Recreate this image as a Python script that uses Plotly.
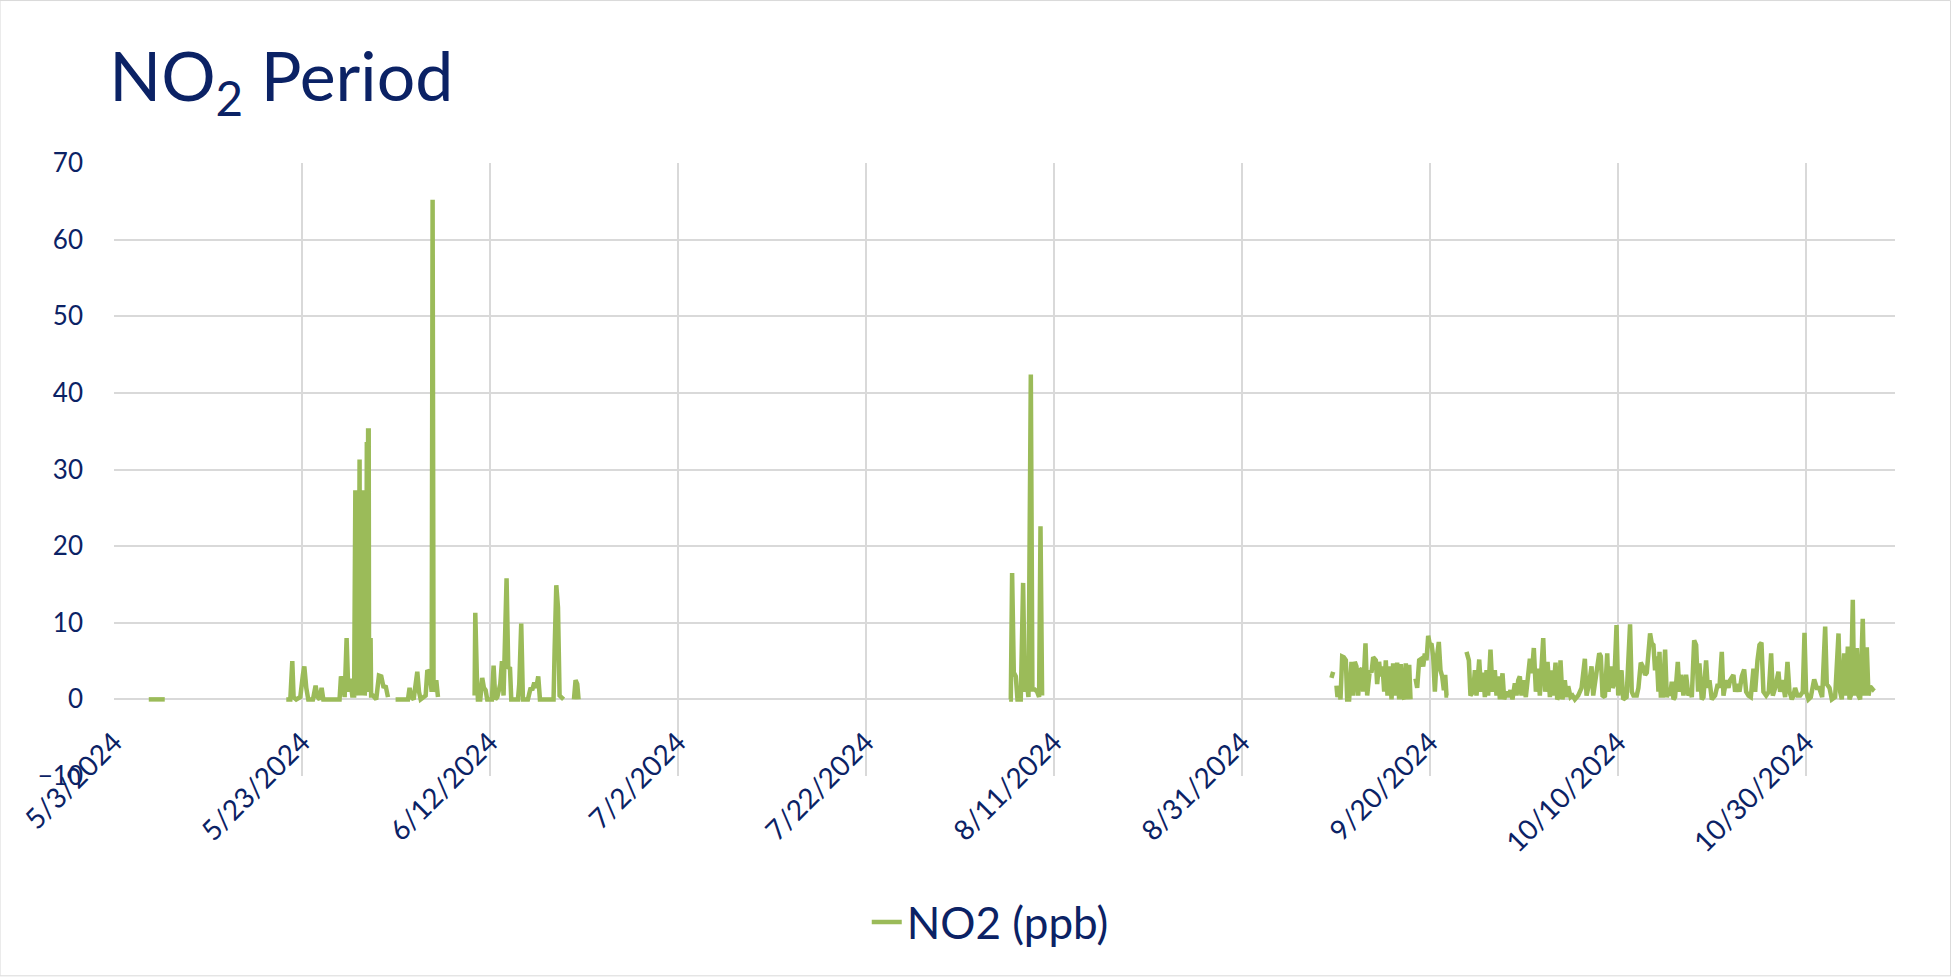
import pandas as pd
import plotly.graph_objects as go

BASE_DATE = pd.Timestamp("2024-05-03")

# readings: days after 5/3/2024 and NO2 in ppb
# (None marks a break in the record)
may_jun_days = [
    3.7, 4.5, 5.4, None,
    18.33, 18.76, 18.97, 19.11, 19.39, 19.82, 20.1, 20.25, 20.46, 20.67, 21.17, 21.45,
    21.66, 21.88, 22.09, 22.27, 24.0, 24.15, 24.36, 24.54, 24.75, 24.93, 25.14, 25.35,
    25.55, 25.6, 25.64, 25.68, 25.72, 25.76, 25.8, 25.84, 25.88, 25.92, 25.96, 26.0,
    26.04, 26.09, 26.13, 26.17, 26.21, 26.25, 26.3, 26.35, 26.42, 26.46, 26.5, 26.55,
    26.6, 26.64, 26.68, 26.72, 26.76, 26.8, 26.84, 26.9, 26.94, 26.98, 27.04, 27.1,
    27.14, 27.2, 27.24, 27.3, 27.36,
    27.55, 27.9, 28.19, 28.44, 28.69, 28.9, 29.15, None,
    29.96, 31.28, 31.45, 31.63, 31.88, 32.09, 32.27, 32.45, 32.63, 33.16, 33.34, 33.58,
    33.8, 33.9, 34.0, 34.29, 34.47, None,
    38.37, 38.44, 38.61, 38.72, 38.97, 39.18, 39.36, 39.54, 39.71, 40.21, 40.39, 40.57,
    40.78, 40.96, 41.1, 41.28, 41.45, 41.77, 41.95, 42.13, 42.27, 42.98, 43.12, 43.33,
    43.51, 44.04, 44.33, 44.5, 44.72, 44.93, 45.14, 45.32, 46.77, 46.88, 47.06, 47.24,
    47.41, 47.84, None,
    48.94, 49.11, 49.29, 49.43,
]
may_jun_ppb = [
    0, 0, 0, None,
    0, 0, 5.0, 0.3, 0, 0.3, 3.2, 4.3, 1.5, 0, 0, 1.8,
    0.3, 0, 1.5, 0, 0, 3.0, 2.0, 0.3, 8.0, 1, 2.7, 0.5,
    0.5, 27.3, 1, 27.3, 2, 27.3, 0.5, 27.3, 3, 27, 1, 20,
    0.5, 31.3, 31.3, 1, 15, 0.5, 10, 1, 5, 27.3, 1, 27.3,
    2, 27.3, 0.5, 27.3, 3, 27.3, 1, 33.3, 33.3, 2, 35.1, 35.1,
    1, 30, 2, 8, 0.5,
    0.5, 0, 3.1, 3.0, 1.5, 1.8, 0.3, None,
    0, 0, 1.5, 0.3, 0, 2, 3.6, 1, 0, 0.5, 3.8, 3.5,
    1, 65.2, 1, 2.5, 0.3, None,
    0.5, 11.3, 3, 0, 0, 2.8, 1.5, 1.2, 0, 0, 4.4, 0,
    0.3, 1.5, 2, 5.0, 0.5, 15.8, 4, 4.2, 0, 0, 2, 9.9,
    0, 0, 1.5, 1.2, 2.2, 1.5, 3.0, 0, 0, 6.3, 14.9, 12,
    0.5, 0, None,
    0, 2.5, 2, 0,
]

aug_days = [95.24, 95.42, 95.56, 95.74, 95.95, 96.13, 96.48, 96.73, 96.91, 97.09,
            97.3, 97.55, 97.72, 97.97, 98.22, 98.43, 98.58, 98.75]
aug_ppb = [0, 0, 16.5, 3.5, 3.0, 0, 0, 15.2, 1, 2.6,
           0.3, 42.4, 1.3, 1.3, 1, 0.3, 22.6, 0.5]

autumn_days = [
    129.54, 129.72, None,
    130.07, 130.18, 130.36, 130.5, 130.68, 130.85, 131.07, 131.21, 131.42, 131.67, 131.85, 132.02,
    132.2, 132.38, 132.56, 132.77, 132.91, 133.16, 133.34, 133.62, 133.8, 133.98, 134.26, 134.4,
    134.61, 134.76, 134.97, 135.15, 135.32, 135.5, 135.75, 135.93, 136.1, 136.32, 136.53, 136.74,
    136.92, 137.1, 137.27, 137.45, 137.63, 137.81, 137.95, None,
    138.48, 138.66, 138.87, 139.12, 139.3, 139.47, 139.65, 139.83, 140.01, 140.18, 140.36, 140.54,
    140.72, 140.96, 141.14, 141.32, 141.5, 141.64, 141.78, 141.96, None,
    143.91, 144.16, 144.33, 144.62, 144.8, 144.97, 145.26, 145.47, 145.68, 145.86, 146.04, 146.21,
    146.46, 146.68, 146.92, 147.1, 147.28, 147.46, 147.74, 147.92, 148.17, 148.34, 148.59, 148.8,
    149.05, 149.23, 149.41, 149.58, 149.76, 149.94, 150.22, 150.47, 150.65, 150.86, 151.07, 151.29,
    151.53, 151.71, 152.07, 152.28, 152.53, 152.78, 152.95, 153.13, 153.38, 153.56, 153.77, 153.91,
    154.12, 154.37, 154.55, 154.73, 154.98, 155.19, 155.44, 155.79, 156.15, 156.5, 156.68, 156.96,
    157.21, 157.39, 157.74, 158.03, 158.2, 158.38, 158.63, 158.88, 159.02, 159.23, 159.45, 159.62,
    159.87, 160.05, 160.23, 160.4, 160.58, 160.94, 161.31, 161.49, 161.67, 162.02, 162.2, 162.45,
    162.66, 162.91, 163.09, 163.44, 163.62, 163.8, 163.97, 164.15, 164.33, 164.44, 164.58, 164.79,
    165.04, 165.22, 165.39, 165.57, 165.75, 165.93, 166.1, 166.39, 166.56, 166.74, 166.99, 167.27,
    167.52, 167.7, 167.88, 168.13, 168.34, 168.55, 168.69, 168.94, 169.12, 169.4, 169.58, 169.76,
    170.01, 170.36, 170.64, 170.82, 171.07, 171.25, 171.53, 171.78, 171.96, 172.31, 172.49, 172.74,
    172.95, 173.2, 173.45, 173.66, 173.91, 174.16, 174.44, 174.62, 174.87, 175.08, 175.29, 175.5,
    175.79, 176.07, 176.32, 176.5, 176.75, 177.1, 177.28, 177.53, 177.81, 178.06, 178.27, 178.52,
    178.7, 178.87, 179.12, 179.41, 179.69, 179.87, 180.04, 180.29, 180.54, 180.9, 181.18, 181.43,
    181.75, 182.07, 182.24, 182.53, 182.78, 183.13, 183.49, 183.66, 183.84, 184.09, 184.3, 184.48,
    184.66, 184.8, 185.01, 185.15, 185.44, 185.61, 185.79, 186.07, 186.25, 186.5, 186.68, 186.86,
    187.14, 187.28,
]
autumn_ppb = [
    2.8, 3.6, None,
    1.8, 0.3, 1.5, 0, 5.6, 5.5, 5.1, 0, 0, 4.9, 0.5, 4.9,
    4.3, 0.5, 3.8, 4.0, 1, 7.3, 0.5, 3.8, 3.5, 5.5, 5.1, 2,
    4.9, 3.0, 4.3, 1, 5.1, 0.5, 4.3, 0, 4.7, 0.5, 4.8, 0,
    4.6, 0.5, 0, 4.7, 0, 4.5, 0, None,
    2.7, 1.5, 5.1, 5.3, 4.3, 6.0, 5.1, 8.3, 7.1, 7.3, 5.6, 1.0,
    5.1, 7.5, 3.8, 3.0, 1.2, 3.2, 0.5, 0.5, None,
    6.2, 5.1, 0.5, 1, 3.8, 0.5, 5.2, 1, 3.5, 0.3, 3.8, 0.5,
    6.5, 1, 3.8, 0.5, 3.0, 0, 3.4, 0, 1, 0.3, 1.2, 0,
    2.1, 0.5, 2.5, 3.0, 0.5, 2.5, 0.3, 3.4, 5.3, 3.4, 6.7, 1,
    4.0, 0.5, 8.0, 1, 4.9, 0.3, 3.8, 0.5, 4.8, 0, 0.5, 5.1,
    0, 2.5, 0.3, 1.7, 0.3, 0.5, 0, 0.5, 1.5, 5.3, 0.5, 2.1,
    4.3, 0.5, 3.8, 6.0, 5.6, 0.5, 0.3, 6.0, 1, 4.3, 1.5, 2,
    9.7, 0.5, 3, 3.8, 0, 0.3, 9.8, 1, 0.5, 0.5, 1.5, 4.8,
    4.3, 3.2, 3.5, 8.6, 7.3, 7.1, 3.8, 5.6, 1, 6.2, 0.5, 0.5,
    6.5, 0.3, 1, 0.5, 2.3, 0, 0.3, 4.9, 1, 3.2, 0.5, 3.2,
    0.5, 1, 0.3, 7.7, 7.1, 1, 4.7, 0, 0.3, 5.1, 1.5, 2.5,
    0, 0.5, 2, 1.5, 6.2, 0.5, 2.5, 1.5, 2.5, 3.2, 1, 2,
    1, 3, 3.9, 1, 0.5, 0.3, 4.0, 1, 5.1, 7.1, 7.4, 1,
    0.5, 1, 6.0, 0.5, 1.5, 3.6, 1, 2.5, 0.3, 4.9, 1, 0,
    0.5, 1.5, 0.5, 0.5, 1, 8.7, 1, 0, 0.3, 2.6, 1.5, 1.5,
    0.3, 9.5, 2, 1.5, 0, 0.3, 8.6, 1, 0, 6.0, 0.5, 6.9,
    0, 0.5, 13.0, 0.5, 6.7, 0.5, 0, 10.5, 0.5, 6.8, 0.5, 1.7,
    1.3, 1.5,
]

days = may_jun_days + [None] + aug_days + [None] + autumn_days
ppb = may_jun_ppb + [None] + aug_ppb + [None] + autumn_ppb
dates = [None if d is None else BASE_DATE + pd.Timedelta(days=d) for d in days]

navy = "#0B2265"
grid = "#D9D9D9"

fig = go.Figure(go.Scatter(
    x=dates,
    y=ppb,
    mode="lines",
    name="NO2 (ppb)",
    line=dict(color="#9BBB59", width=4.5),
    connectgaps=False,
))

fig.update_layout(
    width=1951,
    height=977,
    margin=dict(l=114, r=56, t=163, b=201),
    paper_bgcolor="white",
    plot_bgcolor="white",
    font=dict(family="Lato", color=navy, size=26),
    title=dict(
        text="NO<sub>2</sub> Period",
        font=dict(size=68, color=navy),
        x=0.056, xanchor="left",
        y=0.945, yanchor="top",
    ),
    showlegend=True,
    legend=dict(
        orientation="h",
        x=0.492, xanchor="center",
        y=-0.239, yanchor="middle",
        font=dict(size=44, color=navy),
    ),
    shapes=[dict(
        type="rect", xref="paper", yref="paper",
        x0=-0.064, x1=1.0312, y0=-0.326, y1=1.265,
        line=dict(color=grid, width=1),
    )],
)

fig.update_xaxes(
    type="date",
    range=["2024-05-03", "2024-11-08 12:00"],
    tick0="2024-05-03",
    dtick=20 * 86400000,
    tickformat="%-m/%-d/%Y",
    tickangle=-45,
    showgrid=True, gridcolor=grid, gridwidth=1.5,
    showline=False, zeroline=False,
    ticks="",
    anchor="free", position=0.125,
    ticklabelstandoff=20,
    tickfont=dict(size=28, color=navy),
)

fig.update_yaxes(
    range=[-10, 70],
    dtick=10,
    showgrid=True, gridcolor=grid, gridwidth=1.5,
    zeroline=False, showline=False,
    ticks="",
    ticklabelstandoff=30,
    tickfont=dict(size=26, color=navy),
)

fig.write_html("out.html", config={"displayModeBar": False},
               post_script="document.body.style.margin='0';")
